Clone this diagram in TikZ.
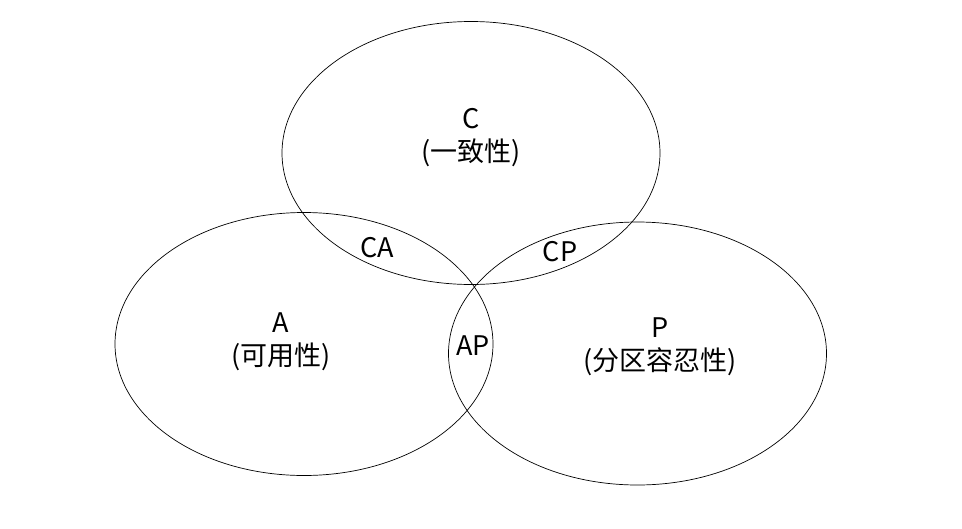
\documentclass[tikz,border=0pt]{standalone}
\usepackage{fontspec}
\setmainfont{Noto Sans CJK SC}
\usetikzlibrary{shapes.geometric}
\begin{document}
\begin{tikzpicture}[x=1pt,y=-1pt,
  circ/.style={ellipse,draw=black,line width=0.7pt,inner sep=0pt,minimum width=378pt,minimum height=263pt},
  lbl/.style={font=\fontsize{27}{33}\selectfont,align=center,inner sep=0pt}]
\useasboundingbox (0,0) rectangle (962,528);
\node[circ] (C) at (471,153) {};
\node[circ] (A) at (304,344) {};
\node[circ] (P) at (637.5,353.5) {};
\node[lbl] (tC) at (471,138) {C\\(一致性)};
\node[lbl] (tA) at (281,342) {A\\(可用性)};
\node[lbl] (tP) at (660,347) {P\\(分区容忍性)};
\node[lbl] (tCA) at (377,248) {CA};
\node[lbl] (tCP) at (560,252) {CP};
\node[lbl] (tAP) at (473,346) {AP};
\end{tikzpicture}
\end{document}
